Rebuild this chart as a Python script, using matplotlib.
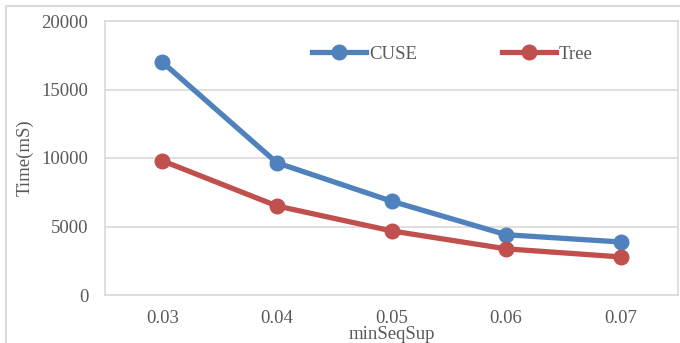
import matplotlib.pyplot as plt
from matplotlib.patches import Rectangle

plt.rcParams['font.family'] = ['Liberation Serif', 'DejaVu Serif']

support = ['0.03', '0.04', '0.05', '0.06', '0.07']
cuse_time = [17000, 9650, 6850, 4400, 3870]
tree_time = [9800, 6500, 4680, 3370, 2780]

W, H = 680, 343
fs = 13.5
fig = plt.figure(figsize=(W / 100, H / 100), dpi=100)

# light frame around the whole chart (cut at the bottom and right edge)
fig.patches.append(Rectangle((6 / W, -0.2), 2.0, 1 - 6 / H + 0.2,
                             transform=fig.transFigure, fill=False,
                             edgecolor='#d9d9d9', linewidth=1.5))

ax = fig.add_axes([105 / W, 1 - 295 / H, 573 / W, 274 / H])
x = range(len(support))
ax.plot(x, cuse_time, color='#4F81BD', lw=3.8, marker='o', ms=10.5, label='CUSE')
ax.plot(x, tree_time, color='#C0504D', lw=3.8, marker='o', ms=10.5, label='Tree')

ax.set_xlim(-0.5, len(support) - 0.5)
ax.set_ylim(0, 20000)
ax.set_yticks(range(0, 20001, 5000))
ax.set_xticks(list(x))
ax.set_xticklabels(support)
ax.yaxis.grid(True, color='#d9d9d9', lw=1.2)
ax.set_axisbelow(True)
for s in ax.spines.values():
    s.set_color('#d9d9d9')
    s.set_linewidth(1.2)
ax.tick_params(length=0, labelsize=fs, colors='#595959')
ax.tick_params(axis='x', pad=11)
ax.tick_params(axis='y', pad=12)

ax.set_ylabel('Time(mS)', fontsize=fs, color='#595959', labelpad=6)
ax.set_xlabel('minSeqSup', fontsize=fs, color='#595959', labelpad=-1)

ax.legend(loc='center left', bbox_to_anchor=(207 / 573, 1 - 33 / 274), ncol=2,
          frameon=False, fontsize=fs, labelcolor='#595959', handlelength=2.9,
          handletextpad=0.15, columnspacing=4.5, borderpad=0, borderaxespad=0)

fig.savefig('out.png', dpi=100)
